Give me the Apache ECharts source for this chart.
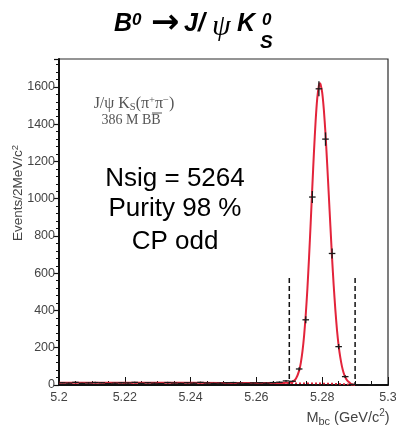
<!DOCTYPE html>
<html>
<head>
<meta charset="utf-8">
<title>B0 to J/psi KS Mbc</title>
<script src="https://cdn.jsdelivr.net/npm/echarts/dist/echarts.min.js"></script>
<style>
  html, body { margin: 0; padding: 0; background: #fff; }
  #chart { width: 396px; height: 429px; }
</style>
</head>
<body>
<div id="chart"></div>
<script>
// Beam-constrained mass, 2 MeV/c2 bins (bin centres in GeV/c2)
const binCenters = [
  5.201, 5.203, 5.205, 5.207, 5.209, 5.211, 5.213, 5.215, 5.217, 5.219,
  5.221, 5.223, 5.225, 5.227, 5.229, 5.231, 5.233, 5.235, 5.237, 5.239,
  5.241, 5.243, 5.245, 5.247, 5.249, 5.251, 5.253, 5.255, 5.257, 5.259,
  5.261, 5.263, 5.265, 5.267, 5.269, 5.271, 5.273, 5.275, 5.277, 5.279,
  5.281, 5.283, 5.285, 5.287, 5.289, 5.295
];
const binCounts = [
  12, 10, 14, 9, 11, 13, 12, 8, 10, 12,
  11, 14, 9, 12, 10, 8, 13, 11, 9, 12,
  10, 14, 11, 9, 10, 12, 13, 10, 8, 11,
  12, 10, 13, 15, 22, 20, 86, 350, 1009, 1590,
  1320, 706, 206, 45, 3, 2
];
const binErrors = [
  3, 3, 4, 3, 3, 4, 3, 3, 3, 3,
  3, 4, 3, 3, 3, 3, 4, 3, 3, 3,
  3, 4, 3, 3, 3, 3, 4, 3, 3, 3,
  3, 3, 4, 4, 5, 4, 9, 19, 32, 40,
  36, 27, 14, 7, 2, 1
];

// Fit result: signal + background (solid) and background alone (dotted)
const fitMass = [
  5.200, 5.220, 5.240, 5.260, 5.266, 5.268, 5.269, 5.270, 5.271, 5.272,
  5.273, 5.2735, 5.274, 5.2745, 5.275, 5.2755, 5.276, 5.2765, 5.277, 5.2775,
  5.278, 5.2785, 5.279, 5.2793, 5.2795, 5.280, 5.2805, 5.281, 5.2815, 5.282,
  5.2825, 5.283, 5.2835, 5.284, 5.2845, 5.285, 5.2855, 5.286, 5.2865, 5.287,
  5.2875, 5.288, 5.2885, 5.289, 5.2895, 5.290
];
const fitTotal = [
  12, 12, 11.5, 11, 11, 11, 12, 12, 17, 33,
  77, 119, 180, 265, 377, 517, 684, 870, 1065, 1253,
  1417, 1540, 1608, 1620, 1615, 1570, 1478, 1350, 1190, 1021,
  850, 681, 533, 403, 294, 210, 148, 100, 66, 43,
  27, 17, 10, 4, 2, 0
];
const bkgMass  = [5.200, 5.220, 5.240, 5.260, 5.270, 5.280, 5.284, 5.286, 5.287, 5.288, 5.2885, 5.289];
const bkgLevel = [12, 11.5, 11, 10.5, 10, 8.5, 7, 5.5, 4.5, 3, 2, 0];

// Signal-region cuts
const cutEdges = [5.27, 5.29];
const cutHeight = [575, 575];

// Axis ranges and ticks
const xRange = [5.2, 5.3];
const xStep = 0.02;
const yRange = [0, 1750];
const yStep = 200;

const HALF_BIN = 0.001;
const SANS = 'Arial, "Liberation Sans", Helvetica, sans-serif';
const SERIF = '"Times New Roman", "Liberation Serif", "DejaVu Serif", serif';

const zip = (a, b) => a.map((v, i) => [v, b[i]]);
const points = binCenters.map((m, i) => [m, binCounts[i], binErrors[i]]);

const chart = echarts.init(document.getElementById('chart'), null, { renderer: 'canvas' });

chart.setOption({
  animation: false,
  backgroundColor: '#ffffff',
  grid: {
    left: 59, right: 8, top: 59, bottom: 44,
    outerBoundsMode: 'none', containLabel: false,
    show: true, borderColor: '#2a2a2a', borderWidth: 1.2, backgroundColor: 'transparent'
  },
  xAxis: {
    type: 'value',
    min: xRange[0], max: xRange[1], interval: xStep,
    axisLine: { lineStyle: { color: '#111', width: 2 } },
    axisTick: { inside: true, length: 8, lineStyle: { color: '#111', width: 1 } },
    minorTick: { show: true, splitNumber: 4, length: 4, lineStyle: { color: '#111', width: 1 } },
    splitLine: { show: false },
    axisLabel: {
      color: '#444', fontSize: 12.5, fontFamily: SANS, margin: 6,
      formatter: v => String(+v.toFixed(2))
    }
  },
  yAxis: {
    type: 'value',
    min: yRange[0], max: yRange[1], interval: yStep,
    axisLine: { lineStyle: { color: '#111', width: 2 } },
    axisTick: { inside: false, length: 5, lineStyle: { color: '#111', width: 1.2 } },
    minorTick: { show: true, splitNumber: 5, length: 3, lineStyle: { color: '#111', width: 1 } },
    splitLine: { show: false },
    axisLabel: {
      color: '#444', fontSize: 12.5, fontFamily: SANS, margin: 4, showMaxLabel: false,
      formatter: v => String(Math.round(v))
    }
  },
  series: [
    {
      name: 'background',
      type: 'line',
      data: zip(bkgMass, bkgLevel),
      showSymbol: false,
      lineStyle: { color: '#e3243b', width: 1.6, type: [2, 2] },
      z: 2
    },
    {
      name: 'fit',
      type: 'line',
      data: zip(fitMass, fitTotal),
      showSymbol: false,
      smooth: 0.2,
      lineStyle: { color: '#e3243b', width: 2 },
      z: 3
    },
    {
      name: 'data',
      type: 'custom',
      data: points,
      z: 4,
      renderItem(params, api) {
        const m = api.value(0), n = api.value(1), e = api.value(2);
        const l = api.coord([m - HALF_BIN, n]);
        const r = api.coord([m + HALF_BIN, n]);
        const t = api.coord([m, n + e]);
        const b = api.coord([m, Math.max(0, n - e)]);
        const st = { stroke: '#1a1a1a', lineWidth: 1.3 };
        return {
          type: 'group',
          children: [
            { type: 'line', shape: { x1: l[0], y1: l[1], x2: r[0], y2: r[1] }, style: st },
            { type: 'line', shape: { x1: t[0], y1: t[1], x2: b[0], y2: b[1] }, style: st }
          ]
        };
      }
    },
    {
      name: 'cuts',
      type: 'custom',
      data: zip(cutEdges, cutHeight),
      z: 5,
      renderItem(params, api) {
        const top = api.coord([api.value(0), api.value(1)]);
        const bot = api.coord([api.value(0), 0]);
        return {
          type: 'line',
          shape: { x1: top[0], y1: top[1], x2: bot[0], y2: bot[1] },
          style: { stroke: '#111', lineWidth: 1.5, lineDash: [5, 3] }
        };
      }
    }
  ],
  graphic: [
    // title: B0 -> J/psi K0S
    { type: 'text', x: 114, y: 24, style: { text: 'B', font: 'italic bold 25px ' + SANS, fill: '#000', verticalAlign: 'middle', align: 'left' } },
    { type: 'text', x: 132, y: 20, style: { text: '0', font: 'italic bold 17px ' + SANS, fill: '#000', verticalAlign: 'middle', align: 'left' } },
    { type: 'text', x: 151, y: 24, style: { text: '\u2192', font: 'bold 34px "DejaVu Sans", sans-serif', fill: '#000', verticalAlign: 'middle', align: 'left' } },
    { type: 'text', x: 184, y: 24, style: { text: 'J/', font: 'italic bold 25px ' + SANS, fill: '#000', verticalAlign: 'middle', align: 'left' } },
    { type: 'text', x: 212, y: 27, style: { text: '\u03c8', font: 'italic 30px ' + SERIF, fill: '#000', verticalAlign: 'middle', align: 'left' } },
    { type: 'text', x: 237, y: 24, style: { text: 'K', font: 'italic bold 25px ' + SANS, fill: '#000', verticalAlign: 'middle', align: 'left' } },
    { type: 'text', x: 262, y: 20, style: { text: '0', font: 'italic bold 17px ' + SANS, fill: '#000', verticalAlign: 'middle', align: 'left' } },
    { type: 'text', x: 260, y: 43, style: { text: 'S', font: 'italic bold 19px ' + SANS, fill: '#000', verticalAlign: 'middle', align: 'left' } },

    // sample description
    {
      type: 'text', x: 134, y: 104,
      style: {
        text: '{n|J/\u03c8 K}{sub|S}{n|(\u03c0}{sup|+}{n|\u03c0}{sup|\u2212}{n|)}',
        align: 'center', verticalAlign: 'middle',
        rich: {
          n: { font: '16px ' + SERIF, fill: '#555', lineHeight: 18 },
          sub: { font: '10.5px ' + SERIF, fill: '#555', lineHeight: 18, verticalAlign: 'bottom' },
          sup: { font: '10.5px ' + SERIF, fill: '#555', lineHeight: 18, verticalAlign: 'top' }
        }
      }
    },
    { type: 'text', x: 131, y: 120, style: { text: '386 M BB', font: '14px ' + SERIF, fill: '#555', align: 'center', verticalAlign: 'middle' } },
    { type: 'line', shape: { x1: 152, y1: 113, x2: 162, y2: 113 }, style: { stroke: '#555', lineWidth: 1 } },

    // fit summary
    { type: 'text', x: 175, y: 179, style: { text: 'Nsig = 5264', font: '26px ' + SANS, fill: '#000', align: 'center', verticalAlign: 'middle' } },
    { type: 'text', x: 175, y: 209, style: { text: 'Purity 98 %', font: '26px ' + SANS, fill: '#000', align: 'center', verticalAlign: 'middle' } },
    { type: 'text', x: 175, y: 242, style: { text: 'CP odd', font: '26px ' + SANS, fill: '#000', align: 'center', verticalAlign: 'middle' } },

    // axis titles
    {
      type: 'text', x: 18, y: 193, rotation: Math.PI / 2,
      style: {
        text: '{a|Events/2MeV/c}{p|2}',
        align: 'center', verticalAlign: 'middle',
        rich: {
          a: { font: '13.5px ' + SANS, fill: '#444', lineHeight: 16 },
          p: { font: '9.5px ' + SANS, fill: '#444', lineHeight: 16, verticalAlign: 'top' }
        }
      }
    },
    {
      type: 'text', x: 348, y: 418,
      style: {
        text: '{a|M}{s|bc}{a| (GeV/c}{p|2}{a|)}',
        align: 'center', verticalAlign: 'middle',
        rich: {
          a: { font: '14.5px ' + SANS, fill: '#444', lineHeight: 19 },
          s: { font: '11px ' + SANS, fill: '#444', lineHeight: 19, verticalAlign: 'bottom' },
          p: { font: '10px ' + SANS, fill: '#444', lineHeight: 19, verticalAlign: 'top' }
        }
      }
    }
  ]
});
</script>
</body>
</html>
